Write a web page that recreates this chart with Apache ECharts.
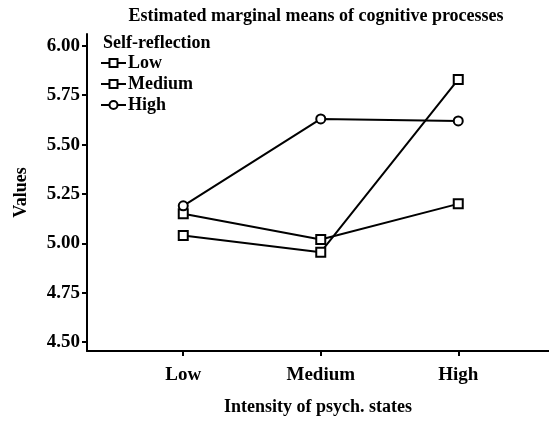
<!DOCTYPE html>
<html>
<head>
<meta charset="utf-8">
<script src="https://cdn.jsdelivr.net/npm/echarts@6/dist/echarts.min.js"></script>
<style>html,body{margin:0;padding:0;background:#fff;}#c{width:549px;height:421px;}</style>
</head>
<body>
<div id="c"></div>
<script>
const categories = ['Low', 'Medium', 'High'];
const yTicks = [4.5, 4.75, 5.0, 5.25, 5.5, 5.75, 6.0];
const seriesNames = ['Low', 'Medium', 'High'];
const lowValues = [5.04, 4.955, 5.83];
const mediumValues = [5.15, 5.02, 5.20];
const highValues = [5.19, 5.63, 5.62];

const FONT = '"Liberation Serif", "Times New Roman", serif';
const chart = echarts.init(document.getElementById('c'), null, {renderer: 'canvas'});
const toPts = vals => categories.map((c, i) => [i, vals[i]]);
const mk = (name, vals, symbol, size) => ({
  name: name, type: 'line', data: toPts(vals), symbol: symbol, symbolSize: size,
  showAllSymbol: true,
  lineStyle: {color: '#000', width: 2},
  itemStyle: {color: '#fff', borderColor: '#000', borderWidth: 2},
  emphasis: {disabled: true}
});
chart.setOption({
  animation: false,
  backgroundColor: '#fff',
  graphic: [
    {type: 'text', x: 316, y: 16, style: {text: 'Estimated marginal means of cognitive processes', font: 'bold 18px ' + FONT, fill: '#000', textAlign: 'center', textVerticalAlign: 'middle'}},
    {type: 'text', x: 103, y: 43, style: {text: 'Self-reflection', font: 'bold 18px ' + FONT, fill: '#000', textAlign: 'left', textVerticalAlign: 'middle'}}
  ],
  legend: {
    orient: 'vertical', left: 100, top: 54, padding: 0, itemWidth: 25, itemHeight: 10, itemGap: 3,
    data: seriesNames,
    textStyle: {fontFamily: FONT, fontSize: 18, fontWeight: 'bold', color: '#000', lineHeight: 18, padding: [0, 0, 0, -3]}
  },
  grid: {left: 87, top: 34, right: 0, bottom: 69, containLabel: false},
  xAxis: {
    type: 'value', min: -0.70, max: 2.66,
    name: 'Intensity of psych. states', nameLocation: 'middle', nameGap: 47,
    nameTextStyle: {fontFamily: FONT, fontSize: 18, fontWeight: 'bold', color: '#000'},
    axisLine: {show: true, onZero: false, lineStyle: {color: '#000', width: 2}},
    axisTick: {show: true, length: 5, lineStyle: {color: '#000', width: 2}, customValues: [0, 1, 2]},
    axisLabel: {customValues: [0, 1, 2], formatter: v => categories[Math.round(v)], fontFamily: FONT, fontSize: 19, fontWeight: 'bold', color: '#000', margin: 15},
    splitLine: {show: false}
  },
  yAxis: {
    type: 'value', min: 4.455, max: 6.06,
    name: 'Values', nameLocation: 'middle', nameGap: 57, nameRotate: 90,
    nameTextStyle: {fontFamily: FONT, fontSize: 18, fontWeight: 'bold', color: '#000'},
    axisLine: {show: true, onZero: false, lineStyle: {color: '#000', width: 2}},
    axisTick: {show: true, length: 5, lineStyle: {color: '#000', width: 2}, customValues: yTicks},
    axisLabel: {customValues: yTicks, formatter: v => v.toFixed(2), fontFamily: FONT, fontSize: 19, fontWeight: 'bold', color: '#000', margin: 7},
    splitLine: {show: false}
  },
  series: [
    mk('Low', lowValues, 'rect', 9),
    mk('Medium', mediumValues, 'rect', 9),
    mk('High', highValues, 'circle', 9)
  ]
});
</script>
</body>
</html>
